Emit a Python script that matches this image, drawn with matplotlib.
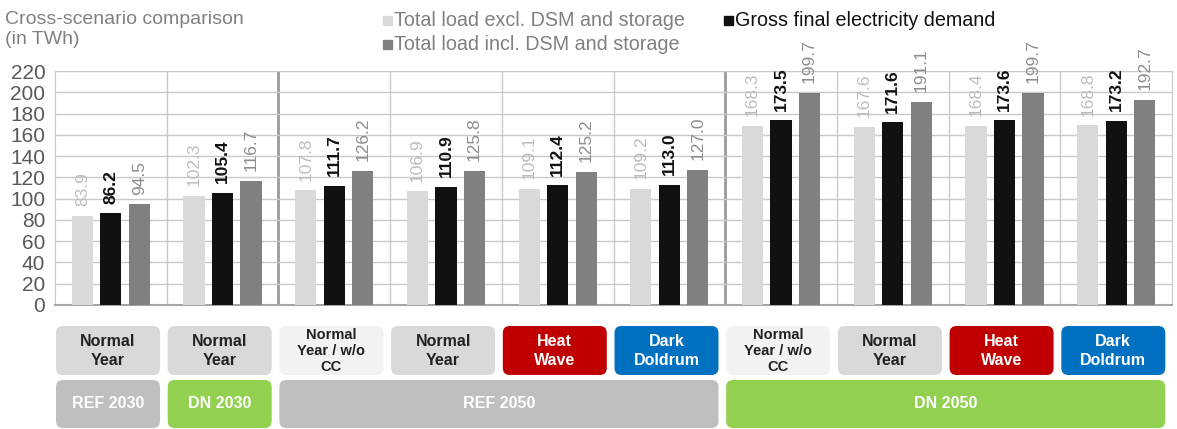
import matplotlib.pyplot as plt
from matplotlib.patches import FancyBboxPatch
import numpy as np

plt.rcParams['font.family'] = ['Liberation Sans', 'DejaVu Sans']

# data
excl = [83.9, 102.3, 107.8, 106.9, 109.1, 109.2, 168.3, 167.6, 168.4, 168.8]
gross = [86.2, 105.4, 111.7, 110.9, 112.4, 113.0, 173.5, 171.6, 173.6, 173.2]
incl = [94.5, 116.7, 126.2, 125.8, 125.2, 127.0, 199.7, 191.1, 199.7, 192.7]

weather = ['Normal\nYear', 'Normal\nYear', 'Normal\nYear / w/o\nCC', 'Normal\nYear',
           'Heat\nWave', 'Dark\nDoldrum', 'Normal\nYear / w/o\nCC', 'Normal\nYear',
           'Heat\nWave', 'Dark\nDoldrum']
scenarios = ['REF 2030', 'DN 2030', 'REF 2050', 'DN 2050']
scenario_span = [(0, 0), (1, 1), (2, 5), (6, 9)]

c_light, c_black, c_dark = '#d9d9d9', '#111111', '#808080'
weather_col = {'Normal\nYear': ('#d9d9d9', '#222222'),
               'Normal\nYear / w/o\nCC': ('#f2f2f2', '#222222'),
               'Heat\nWave': ('#c00000', 'white'),
               'Dark\nDoldrum': ('#0070c0', 'white')}
scen_col = {'REF': '#bfbfbf', 'DN': '#92d050'}

W, H = 1177, 429
fig = plt.figure(figsize=(W / 100, H / 100), dpi=100)
L, R, T, B = 55, 1172, 71, 305
ax = fig.add_axes([L / W, 1 - B / H, (R - L) / W, (B - T) / H])

n = len(excl)
x = np.arange(n) + 0.5
bw, off = 0.19, 0.255
ax.bar(x - off, excl, bw, color=c_light, zorder=3)
ax.bar(x, gross, bw, color=c_black, zorder=3)
ax.bar(x + off, incl, bw, color=c_dark, zorder=3)

for vals, dx, col, wt in [(excl, -off, '#bdbdbd', 'normal'),
                          (gross, 0, '#111111', 'bold'),
                          (incl, off, '#8c8c8c', 'normal')]:
    for xi, v in zip(x, vals):
        ax.annotate(f'{v:.1f}', (xi + dx, v), xytext=(0, 7), textcoords='offset points',
                    rotation=90, ha='center', va='bottom', fontsize=12.5,
                    color=col, fontweight=wt, annotation_clip=False)

ax.set_xlim(0, n)
ax.set_ylim(0, 220)
ax.set_yticks(range(0, 221, 20))
ax.set_xticks([])
ax.tick_params(axis='y', length=0, pad=7, labelsize=15, labelcolor='#595959')
ax.yaxis.grid(True, color='#c8c8c8', lw=1, zorder=0)
for b in range(1, n):
    if b in (2, 6):
        ax.axvline(b, color='#9a9a9a', lw=2, zorder=1)
    else:
        ax.axvline(b, color='#c8c8c8', lw=1, zorder=1)
for s in ['top', 'right', 'left']:
    ax.spines[s].set_color('#c8c8c8')
ax.spines['bottom'].set_color('#a6a6a6')
ax.spines['bottom'].set_linewidth(1.5)

# title and legend (pixel coords)
fig.text(5 / W, 1 - 19 / H, 'Cross-scenario comparison', ha='left', va='center',
         fontsize=14, color='#808080')
fig.text(5 / W, 1 - 39 / H, '(in TWh)', ha='left', va='center',
         fontsize=14, color='#808080')
leg = [(383, 20, c_light, 'Total load excl. DSM and storage', '#808080'),
       (383, 44, c_dark, 'Total load incl. DSM and storage', '#808080'),
       (724, 20, c_black, 'Gross final electricity demand', '#111111')]
for lx, ly, mc, txt, tc in leg:
    fig.patches.append(plt.Rectangle((lx / W, 1 - (ly + 5) / H), 9 / W, 9 / H,
                                     transform=fig.transFigure, color=mc))
    fig.text((lx + 11) / W, 1 - ly / H, txt, ha='left', va='center', fontsize=14.2, color=tc)

# category boxes below
ax2 = fig.add_axes([0, 0, 1, 1])
ax2.set_xlim(0, W)
ax2.set_ylim(H, 0)
ax2.axis('off')
gw = (R - L) / n


def box(x0, x1, y0, y1, fc):
    ax2.add_patch(FancyBboxPatch((x0, y0), x1 - x0, y1 - y0,
                                 boxstyle='round,pad=0,rounding_size=7',
                                 fc=fc, ec='none'))


for i, w in enumerate(weather):
    x0 = L + i * gw + 1
    fc, tc = weather_col[w]
    box(x0, x0 + 104, 326, 375, fc)
    three = w.count('\n') == 2
    ax2.text(x0 + 52, 351, w, ha='center', va='center', fontsize=10.5 if three else 11.5,
             fontweight='bold', color=tc, linespacing=1.15 if three else 1.3)

for name, (a, b) in zip(scenarios, scenario_span):
    x0 = L + a * gw + 1
    x1 = L + b * gw + 105
    box(x0, x1, 380, 428, scen_col[name.split()[0]])
    ax2.text((x0 + x1) / 2, 404, name, ha='center', va='center', fontsize=11.5,
             fontweight='bold', color='white')

fig.savefig('out.png', dpi=100)
